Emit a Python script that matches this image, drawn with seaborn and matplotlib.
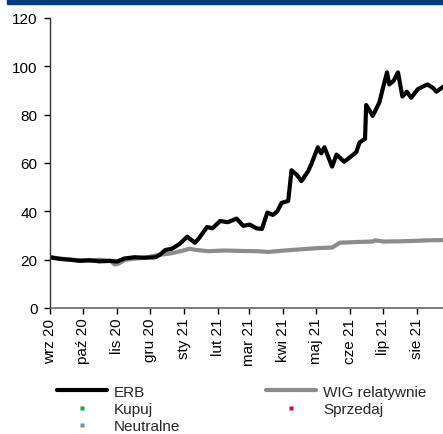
import pandas as pd
import numpy as np
import matplotlib
matplotlib.use("Agg")
import matplotlib.pyplot as plt
from matplotlib.lines import Line2D
import seaborn as sns

# ERB - kurs
erb_dates = ["2020-09-01", "2020-09-10", "2020-09-19", "2020-09-28", "2020-10-07", "2020-10-16",
             "2020-10-26", "2020-11-01", "2020-11-08", "2020-11-17", "2020-11-26", "2020-12-06",
             "2020-12-10", "2020-12-15", "2020-12-21", "2020-12-28", "2021-01-04", "2021-01-11",
             "2021-01-15", "2021-01-22", "2021-01-27", "2021-02-03", "2021-02-10", "2021-02-18",
             "2021-02-24", "2021-03-02", "2021-03-08", "2021-03-13", "2021-03-18", "2021-03-23",
             "2021-03-27", "2021-03-31", "2021-04-06", "2021-04-09", "2021-04-14", "2021-04-18",
             "2021-04-24", "2021-04-27", "2021-05-03", "2021-05-06", "2021-05-09", "2021-05-16",
             "2021-05-20", "2021-05-27", "2021-06-03", "2021-06-07", "2021-06-10", "2021-06-15",
             "2021-06-16", "2021-06-22", "2021-06-28", "2021-07-01", "2021-07-05", "2021-07-07",
             "2021-07-11", "2021-07-15", "2021-07-19", "2021-07-23", "2021-07-27", "2021-08-02",
             "2021-08-06", "2021-08-11", "2021-08-16", "2021-08-19", "2021-08-25"]
erb_values = [21, 20.3, 20, 19.5, 19.8, 19.3,
              19.5, 19.2, 20.5, 21, 20.8, 21,
              22, 24, 24.5, 26.5, 29.5, 27,
              29, 33.5, 33, 36, 35.5, 37,
              34, 34.5, 33, 32.7, 39.5, 38.5,
              40, 43.5, 44.3, 57, 55, 52.5,
              56.5, 59.5, 66.5, 64, 66.5, 58.5,
              63.5, 60.5, 63, 64.5, 68.5, 70,
              84, 79.5, 85, 90.5, 97.5, 92.5,
              94, 97.5, 87.5, 89.5, 87, 90.5,
              91.5, 92.5, 91, 89.5, 91.5]

# WIG relatywnie
wig_dates = ["2020-09-01", "2020-09-10", "2020-09-19", "2020-09-28", "2020-10-07", "2020-10-16",
             "2020-10-26", "2020-10-30", "2020-11-02", "2020-11-09", "2020-11-19", "2020-11-29",
             "2020-12-09", "2020-12-19", "2020-12-29", "2021-01-06", "2021-01-13", "2021-01-23",
             "2021-02-07", "2021-02-22", "2021-03-09", "2021-03-19", "2021-04-03", "2021-04-18",
             "2021-05-03", "2021-05-16", "2021-05-23", "2021-06-07", "2021-06-22", "2021-06-24",
             "2021-07-02", "2021-07-17", "2021-08-01", "2021-08-11", "2021-08-25"]
wig_values = [21, 20.5, 20, 19.8, 19.5, 20,
              19.5, 18, 18.3, 20, 20.5, 21,
              22, 22.5, 23.5, 24.5, 24, 23.5,
              23.8, 23.6, 23.5, 23.2, 23.8, 24.3,
              24.8, 25, 27, 27.3, 27.5, 28,
              27.5, 27.6, 27.8, 28, 28.1]

month_labels = ["wrz 20", "paź 20", "lis 20", "gru 20", "sty 21", "lut 21",
                "mar 21", "kwi 21", "maj 21", "cze 21", "lip 21", "sie 21"]

legend_labels = ["ERB", "Kupuj", "Neutralne", "WIG relatywnie", "Sprzedaj"]

erb = pd.DataFrame({"data": pd.to_datetime(erb_dates), "wartosc": erb_values})
wig = pd.DataFrame({"data": pd.to_datetime(wig_dates), "wartosc": wig_values})

sns.set_style("ticks")
plt.rcParams["font.family"] = ["Liberation Sans", "DejaVu Sans"]

fig = plt.figure(figsize=(4.43, 4.35), dpi=100)
ax = fig.add_axes([50 / 443, 1 - 309 / 435, 1 - 50 / 443, (309 - 19) / 435])

sns.lineplot(data=wig, x="data", y="wartosc", ax=ax, color="#8c8c8c", linewidth=3)
sns.lineplot(data=erb, x="data", y="wartosc", ax=ax, color="black", linewidth=3)

ax.set_xlim(pd.Timestamp("2020-09-01"), pd.Timestamp("2021-08-25"))
ax.set_ylim(0, 120)
ax.set_yticks(range(0, 121, 20))
ticks = pd.date_range("2020-09-01", periods=12, freq="MS")
ax.set_xticks(ticks)
ax.set_xticklabels(month_labels, rotation=90)
ax.set_xlabel("")
ax.set_ylabel("")
ax.tick_params(axis="both", labelsize=11, length=4, width=1, colors="black",
               direction="out", bottom=True, left=True, top=False, right=False)
ax.tick_params(axis="x", pad=3)
ax.tick_params(axis="y", pad=5)
ax.spines["top"].set_visible(False)
ax.spines["right"].set_visible(False)
ax.spines["left"].set_color("#333333")
ax.spines["bottom"].set_color("#666666")
ax.spines["left"].set_linewidth(1)
ax.spines["bottom"].set_linewidth(1.2)

# niebieski pasek u gory
fig.patches.append(plt.Rectangle((7 / 443, 1 - 5 / 435), 1, 5 / 435, transform=fig.transFigure,
                                 color="#003d7e", zorder=5))

handles = [Line2D([], [], color="black", lw=3),
           Line2D([], [], color="none", marker="s", markersize=2.5, markerfacecolor="#00b050", markeredgecolor="none"),
           Line2D([], [], color="none", marker="s", markersize=2.5, markerfacecolor="#6e90b0", markeredgecolor="none"),
           Line2D([], [], color="#8c8c8c", lw=3),
           Line2D([], [], color="none", marker="s", markersize=2.5, markerfacecolor="#d0004a", markeredgecolor="none"),
           ]
fig.legend(handles, legend_labels, ncol=2, loc="upper left", bbox_to_anchor=(49 / 443, 1 - 378 / 435),
           frameon=False, fontsize=11, handlelength=3.3, handletextpad=0.45, columnspacing=5.6,
           labelspacing=0.22, borderpad=0)

fig.savefig("out.png", dpi=100)
